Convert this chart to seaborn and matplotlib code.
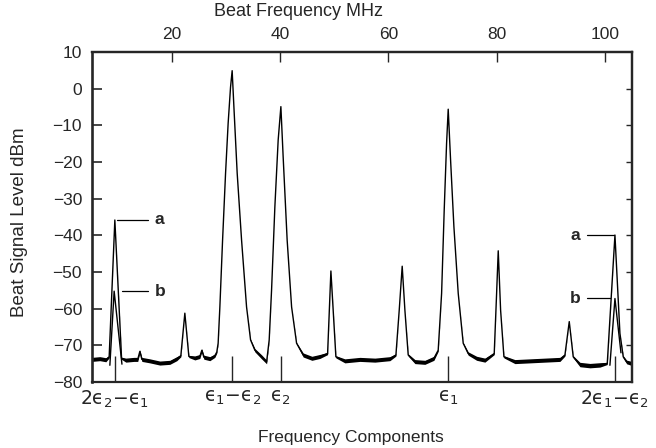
import numpy as np
import pandas as pd
import matplotlib.pyplot as plt
import seaborn as sns

# trace a: beat frequency (MHz) / level (dBm)
freq = [5.22, 6.70, 7.81, 8.42, 9.47, 10.71, 11.50, 12.98, 13.70, 14.09, 14.46,
        15.94, 17.78, 19.63, 20.92, 21.66, 22.40, 23.14, 24.25, 25.17, 25.54,
        25.91, 27.02, 27.94, 28.30, 28.55, 28.87, 29.37, 29.92, 30.40, 30.84, 31.14,
        31.46, 32.07, 32.88, 33.80, 34.54, 35.34, 36.57, 37.50, 37.98, 38.42,
        39.03, 39.64, 40.14, 40.56, 41.30, 42.12, 43.04, 44.26, 45.87, 47.34,
        48.77, 49.38, 50.30, 51.96, 54.73, 57.51, 60.28, 61.39, 62.00, 62.55,
        63.05, 63.66, 64.90, 66.74, 68.41, 69.20, 69.83, 70.31, 70.75, 71.05,
        71.49, 72.10, 72.90, 73.82, 74.74, 76.30, 77.83, 79.55, 79.99, 80.29,
        80.73, 81.34, 83.37, 86.14, 88.91, 91.69, 92.61, 93.41, 94.14, 95.38,
        97.23, 99.08, 100.43, 101.85, 102.77, 103.38, 104.01, 104.94]
level = [-73.8, -73.6, -73.9, -73.1, -35.8, -73.5, -74.0, -73.8, -73.8, -71.6, -73.8,
         -74.2, -74.8, -74.6, -73.6, -72.8, -61.2, -73.0, -73.4, -73.0, -71.3,
         -73.2, -73.6, -72.8, -71.8, -69.4, -59.5, -41.3, -23.1, -9.4, 0.4, 4.9,
         -4.9, -23.1, -41.3, -59.5, -68.5, -71.3, -73.1, -74.5, -68.5, -54.9,
         -32.2, -14.0, -4.9, -18.6, -41.3, -59.5, -69.4, -72.6, -73.5, -73.0,
         -72.2, -49.7, -73.1, -74.2, -73.8, -74.0, -73.6, -72.6, -60.4, -48.4,
         -60.4, -72.6, -74.4, -74.6, -73.5, -71.3, -55.8, -33.1, -14.9, -5.6,
         -19.5, -37.6, -55.8, -69.4, -72.2, -73.5, -74.0, -72.2, -55.8, -44.2,
         -60.4, -73.1, -74.4, -74.2, -74.0, -73.8, -72.6, -63.5, -73.1, -75.2,
         -75.5, -75.3, -74.9, -39.9, -66.7, -73.1, -74.5, -74.9]
# half width of the noisy band around the trace
noise = [0.55, 0.55, 0.55, 0.3, 0.0, 0.3, 0.55, 0.55, 0.55, 0.4, 0.55,
         0.55, 0.55, 0.55, 0.55, 0.3, 0.0, 0.3, 0.55, 0.55, 0.4,
         0.55, 0.55, 0.45, 0.3, 0.2, 0.0, 0.0, 0.0, 0.0, 0.0, 0.0,
         0.0, 0.0, 0.0, 0.0, 0.2, 0.45, 0.55, 0.5, 0.2, 0.0,
         0.0, 0.0, 0.0, 0.0, 0.0, 0.0, 0.2, 0.55, 0.55, 0.55,
         0.3, 0.0, 0.3, 0.55, 0.55, 0.55, 0.55, 0.3, 0.0, 0.0,
         0.0, 0.3, 0.55, 0.55, 0.55, 0.3, 0.0, 0.0, 0.0, 0.0,
         0.0, 0.0, 0.0, 0.2, 0.45, 0.55, 0.55, 0.3, 0.0, 0.0,
         0.0, 0.3, 0.55, 0.55, 0.55, 0.55, 0.3, 0.0, 0.3, 0.6,
         0.6, 0.6, 0.3, 0.0, 0.0, 0.3, 0.5, 0.55]

# trace b, only recorded around the two intermodulation lines
b_left_freq = [8.55, 9.34, 10.78]
b_left_level = [-75.4, -55.2, -75.1]
b_right_freq = [100.92, 101.85, 102.96]
b_right_level = [-75.4, -57.2, -72.0]

comp_freq = [9.47, 31.14, 40.14, 71.05, 101.85]
comp_labels = [r'$2\mathrm{ϵ}_2\mathrm{-}\mathrm{ϵ}_1$', r'$\mathrm{ϵ}_1\mathrm{-}\mathrm{ϵ}_2$',
               r'$\mathrm{ϵ}_2$', r'$\mathrm{ϵ}_1$', r'$2\mathrm{ϵ}_1\mathrm{-}\mathrm{ϵ}_2$']
mhz_ticks = [20, 40, 60, 80, 100]
db_ticks = list(range(10, -90, -10))
db_ticks_right = list(range(0, -80, -10))

sns.set_style('ticks')
plt.rcParams['font.family'] = ['Liberation Sans', 'DejaVu Sans']
plt.rcParams['mathtext.fontset'] = 'dejavusans'

df = pd.DataFrame({'freq': freq, 'level': level, 'noise': noise})

fig = plt.figure(figsize=(6.56, 4.48), dpi=100)
ax = fig.add_axes([0.140, 0.147, 0.823, 0.737])

ax.fill_between(df['freq'], df['level'] - df['noise'], df['level'] + df['noise'],
                color='black', lw=0)
sns.lineplot(data=df, x='freq', y='level', ax=ax, color='black', lw=1.0,
             estimator=None, sort=False)
sns.lineplot(x=b_left_freq, y=b_left_level, ax=ax, color='black', lw=1.0,
             estimator=None, sort=False)
sns.lineplot(x=b_right_freq, y=b_right_level, ax=ax, color='black', lw=1.0,
             estimator=None, sort=False)

# a / b markers
for pf, pa, pb, side in [(comp_freq[0], max(level[:6]), max(b_left_level), 1),
                         (comp_freq[-1], max(level[-6:]), max(b_right_level), -1)]:
    if side == 1:
        ax.plot([pf + 0.35, pf + 6.1], [pa, pa], color='black', lw=0.9)
        ax.plot([pf + 1.3, pf + 6.1], [pb, pb], color='black', lw=0.9)
        tx = pf + 8.3
    else:
        ax.plot([pf - 5.2, pf - 0.2], [pa, pa], color='black', lw=0.9)
        ax.plot([pf - 5.2, pf - 1.0], [pb, pb], color='black', lw=0.9)
        tx = pf - 7.4
    ax.text(tx, pa, 'a', ha='center', va='center', fontsize=12.5, fontweight='bold')
    ax.text(tx, pb, 'b', ha='center', va='center', fontsize=12.5, fontweight='bold')

ax.set_xlim(5.22, 104.95)
ax.set_ylim(-80, 10)

ax.set_yticks(db_ticks)
ax.tick_params(axis='y', direction='in', length=7, width=1.2, labelsize=12.5, pad=7)
ax.set_xticks(comp_freq)
ax.set_xticklabels(comp_labels)
ax.tick_params(axis='x', direction='in', length=19, width=1.0, labelsize=13.5, pad=5)

top = ax.secondary_xaxis('top')
top.set_xticks(mhz_ticks)
top.tick_params(direction='in', length=7, width=1.0, labelsize=12.5, pad=7)

right = ax.secondary_yaxis('right')
right.set_yticks(db_ticks_right)
right.set_yticklabels([])
right.tick_params(direction='in', length=4, width=1.0)

for sp in ax.spines.values():
    sp.set_linewidth(1.6)
    sp.set_visible(True)
ax.spines['left'].set_linewidth(1.9)
top.spines['top'].set_linewidth(1.6)
right.spines['right'].set_linewidth(1.6)

ax.set_xlabel('')
ax.set_ylabel('')
fig.text(298 / 656, 1 - 12 / 448, 'Beat Frequency MHz', ha='center', va='center', fontsize=13)
fig.text(351 / 656, 1 - 437 / 448, 'Frequency Components', ha='center', va='center', fontsize=12.5)
fig.text(20 / 656, 1 - 222 / 448, 'Beat Signal Level dBm', ha='center', va='center',
         rotation=90, fontsize=13.5)

fig.savefig('out.png', dpi=100)
